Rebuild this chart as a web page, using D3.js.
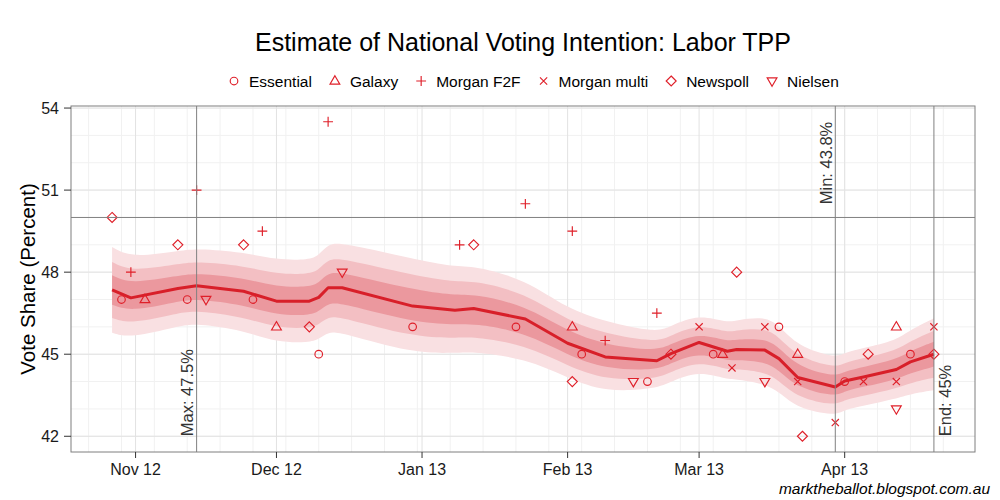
<!DOCTYPE html>
<html>
<head>
<meta charset="utf-8">
<script src="https://cdn.jsdelivr.net/npm/d3@7"></script>
<style>
  body { margin: 0; background: #fff; }
  svg { display: block; font-family: "Liberation Sans", Arial, sans-serif; }
</style>
</head>
<body>
<svg width="1000" height="500"></svg>
<script>
const svg = d3.select("svg");
const width = +svg.attr("width");
const height = +svg.attr("height");

// Margins around the panel
const margin = { top: 106, right: 25, bottom: 48, left: 71 };

const parse = d3.timeParse("%Y-%m-%d");

// Poll data, one set of arrays per house
const houses = ["Essential", "Galaxy", "Morgan F2F", "Morgan multi", "Newspoll", "Nielsen"];
const shapes = ["circle", "triangle", "plus", "cross", "diamond", "down"];

const essentialDates = ["2012-10-29", "2012-11-12", "2012-11-26", "2012-12-10", "2012-12-30", "2013-01-21",
    "2013-02-04", "2013-02-18", "2013-03-04", "2013-03-18", "2013-04-01", "2013-04-15"];
const essentialValues = [47, 47, 47, 45, 46, 46, 45, 44, 45, 46, 44, 45];

const galaxyDates = ["2012-11-03", "2012-12-01", "2013-02-02", "2013-03-06", "2013-03-22", "2013-04-12"];
const galaxyValues = [47, 46, 46, 45, 45, 46];

const morganF2FDates = ["2012-10-31", "2012-11-14", "2012-11-28", "2012-12-12", "2013-01-09", "2013-01-23",
    "2013-02-02", "2013-02-09", "2013-02-20"];
const morganF2FValues = [48, 51, 49.5, 53.5, 49, 50.5, 49.5, 45.5, 46.5];

const morganMultiDates = ["2013-03-01", "2013-03-08", "2013-03-15", "2013-03-22", "2013-03-30", "2013-04-05",
    "2013-04-12", "2013-04-20"];
const morganMultiValues = [46, 44.5, 46, 44, 42.5, 44, 44, 46];

const newspollDates = ["2012-10-27", "2012-11-10", "2012-11-24", "2012-12-08", "2013-01-12", "2013-02-02",
    "2013-02-23", "2013-03-09", "2013-03-23", "2013-04-06", "2013-04-20"];
const newspollValues = [50, 49, 49, 46, 49, 44, 45, 48, 42, 45, 45];

const nielsenDates = ["2012-11-16", "2012-12-15", "2013-02-15", "2013-03-15", "2013-04-12"];
const nielsenValues = [47, 48, 44, 44, 43];

// Estimated trend (median) and its spread
const trendDates = ["2012-10-27", "2012-10-31", "2012-11-10", "2012-11-14", "2012-11-24", "2012-12-01",
    "2012-12-08", "2012-12-10", "2012-12-12", "2012-12-15", "2012-12-30", "2013-01-08", "2013-01-12",
    "2013-01-23", "2013-02-01", "2013-02-09", "2013-02-20", "2013-02-23", "2013-03-01", "2013-03-07",
    "2013-03-09", "2013-03-15", "2013-03-18", "2013-03-22", "2013-03-30", "2013-04-01", "2013-04-05",
    "2013-04-12", "2013-04-15", "2013-04-20"];
const trendValues = [47.35, 47.06, 47.40, 47.50, 47.30, 46.94, 46.94, 47.08, 47.43, 47.43, 46.76, 46.61, 46.67,
    46.29, 45.40, 44.90, 44.76, 45.02, 45.43, 45.11, 45.17, 45.15, 44.84, 44.15, 43.80, 44.02, 44.17,
    44.44, 44.72, 45.00];
const trendSd = [0.80, 0.75, 0.70, 0.70, 0.73, 0.77, 0.77, 0.78, 0.82, 0.84, 0.88, 0.80, 0.80,
    0.74, 0.64, 0.66, 0.52, 0.52, 0.53, 0.53, 0.55, 0.63, 0.62, 0.58, 0.54, 0.53, 0.54,
    0.54, 0.60, 0.67];

// Credible intervals: 95%, 80%, 50%
const bandZ = [1.96, 1.282, 0.674];
const bandColors = ["#f9e0e2", "#f3bfc3", "#eb989e"];

const yTicks = [42, 45, 48, 51, 54];

const red = "#df1f29";

// Build the point table
const houseDates = [essentialDates, galaxyDates, morganF2FDates, morganMultiDates, newspollDates, nielsenDates];
const houseValues = [essentialValues, galaxyValues, morganF2FValues, morganMultiValues, newspollValues, nielsenValues];
const points = [];
houses.forEach((h, i) => {
    houseDates[i].forEach((d, j) => {
        points.push({ house: h, shape: shapes[i], date: parse(d), value: houseValues[i][j] });
    });
});

const trend = trendDates.map((d, i) => ({ date: parse(d), value: trendValues[i], sd: trendSd[i] }));

// Scales with ggplot style 5% expansion
const allDates = points.map(p => p.date).concat(trend.map(t => t.date));
const xExt = d3.extent(allDates);
const xPad = (xExt[1] - xExt[0]) * 0.05;
const x = d3.scaleTime()
    .domain([new Date(+xExt[0] - xPad), new Date(+xExt[1] + xPad)])
    .range([margin.left, width - margin.right]);

const yExt = d3.extent(points, p => p.value);
const yPad = (yExt[1] - yExt[0]) * 0.05;
const y = d3.scaleLinear()
    .domain([yExt[0] - yPad, yExt[1] + yPad])
    .range([height - margin.bottom, margin.top]);

const x0 = margin.left, x1 = width - margin.right;
const y0 = height - margin.bottom, y1 = margin.top;

// Shape paths, similar to R's pch 1..6
function shapePath(shape) {
    switch (shape) {
        case "circle": return circlePath(3.8);
        case "triangle": return "M0,-5.3L4.9,3.1L-4.9,3.1Z";
        case "down": return "M0,5.3L4.9,-3.1L-4.9,-3.1Z";
        case "plus": return "M-4.9,0H4.9M0,-4.9V4.9";
        case "cross": return "M-3.6,-3.6L3.6,3.6M-3.6,3.6L3.6,-3.6";
        case "diamond": return "M0,-5L5,0L0,5L-5,0Z";
    }
}
function circlePath(r) {
    const p = d3.path();
    p.arc(0, 0, r, 0, 2 * Math.PI);
    p.closePath();
    return p.toString();
}

// Grid
const grid = svg.append("g");
const weekTicks = d3.timeMonday.range(x.domain()[0], x.domain()[1]);
grid.selectAll(".vminor")
    .data(weekTicks)
    .enter().append("line")
    .attr("x1", d => x(d)).attr("x2", d => x(d))
    .attr("y1", y0).attr("y2", y1)
    .attr("stroke", "#f1f1f1").attr("stroke-width", 1);
grid.selectAll(".hminor")
    .data(d3.range(42, 55))
    .enter().append("line")
    .attr("x1", x0).attr("x2", x1)
    .attr("y1", d => y(d)).attr("y2", d => y(d))
    .attr("stroke", "#f1f1f1").attr("stroke-width", 1);

const monthTicks = d3.timeMonth.range(x.domain()[0], x.domain()[1]);
grid.selectAll(".vmajor")
    .data(monthTicks)
    .enter().append("line")
    .attr("x1", d => x(d)).attr("x2", d => x(d))
    .attr("y1", y0).attr("y2", y1)
    .attr("stroke", "#e2e2e2").attr("stroke-width", 1);
grid.selectAll(".hmajor")
    .data(yTicks)
    .enter().append("line")
    .attr("x1", x0).attr("x2", x1)
    .attr("y1", d => y(d)).attr("y2", d => y(d))
    .attr("stroke", "#e2e2e2").attr("stroke-width", 1);

// Bands, widest first
bandZ.forEach((z, i) => {
    const area = d3.area()
        .x(d => x(d.date))
        .y0(d => y(d.value - z * d.sd))
        .y1(d => y(d.value + z * d.sd))
        .curve(d3.curveBasis);
    svg.append("path")
        .datum(trend)
        .attr("d", area)
        .attr("fill", bandColors[i]);
});

// Trend line
const line = d3.line()
    .x(d => x(d.date))
    .y(d => y(d.value));
svg.append("path")
    .datum(trend)
    .attr("d", line)
    .attr("fill", "none")
    .attr("stroke", "#d81f29")
    .attr("stroke-width", 3)
    .attr("stroke-linejoin", "round");

// Points
svg.selectAll(".poll")
    .data(points)
    .enter().append("path")
    .attr("class", "poll")
    .attr("transform", d => `translate(${x(d.date)},${y(d.value)})`)
    .attr("d", d => shapePath(d.shape))
    .attr("fill", "none")
    .attr("stroke", red)
    .attr("stroke-width", 1.15);

// Reference lines: 50% and max / min / end
svg.append("line")
    .attr("x1", x0).attr("x2", x1)
    .attr("y1", y(50)).attr("y2", y(50))
    .attr("stroke", "#808080").attr("stroke-width", 1);

const maxT = trend.reduce((a, b) => b.value > a.value ? b : a);
const minT = trend.reduce((a, b) => b.value < a.value ? b : a);
const endT = trend[trend.length - 1];
const fmt = v => String(Math.round(v * 10) / 10);

const marks = [
    { t: maxT, label: "Max: " + fmt(maxT.value) + "%", dx: -4, yv: yExt[0], anchor: "start" },
    { t: minT, label: "Min: " + fmt(minT.value) + "%", dx: -3, yv: yExt[1], anchor: "end" },
    { t: endT, label: "End: " + fmt(endT.value) + "%", dx: 17.5, yv: yExt[0], anchor: "start" }
];
marks.forEach(m => {
    svg.append("line")
        .attr("x1", x(m.t.date)).attr("x2", x(m.t.date))
        .attr("y1", y0).attr("y2", y1)
        .attr("stroke", "#808080").attr("stroke-width", 1);
    svg.append("text")
        .attr("transform", `translate(${x(m.t.date) + m.dx},${y(m.yv)}) rotate(-90)`)
        .attr("text-anchor", m.anchor)
        .attr("font-size", 16.5)
        .attr("fill", "#333")
        .text(m.label);
});

// Panel border
svg.append("rect")
    .attr("x", x0).attr("y", y1)
    .attr("width", x1 - x0).attr("height", y0 - y1)
    .attr("fill", "none")
    .attr("stroke", "#7f7f7f")
    .attr("stroke-width", 1);

// Axes
const xAxis = svg.append("g").attr("transform", `translate(0,${y0})`);
xAxis.selectAll("line")
    .data(monthTicks)
    .enter().append("line")
    .attr("x1", d => x(d)).attr("x2", d => x(d))
    .attr("y1", 0).attr("y2", 6)
    .attr("stroke", "#333");
xAxis.selectAll("text")
    .data(monthTicks)
    .enter().append("text")
    .attr("x", d => x(d)).attr("y", 23)
    .attr("text-anchor", "middle")
    .attr("font-size", 16)
    .attr("fill", "#1a1a1a")
    .text(d3.timeFormat("%b %y"));

const yAxis = svg.append("g").attr("transform", `translate(${x0},0)`);
yAxis.selectAll("line")
    .data(yTicks)
    .enter().append("line")
    .attr("x1", -7).attr("x2", 0)
    .attr("y1", d => y(d)).attr("y2", d => y(d))
    .attr("stroke", "#333");
yAxis.selectAll("text")
    .data(yTicks)
    .enter().append("text")
    .attr("x", -12).attr("y", d => y(d))
    .attr("dy", "0.36em")
    .attr("text-anchor", "end")
    .attr("font-size", 16)
    .attr("fill", "#1a1a1a")
    .text(d => d);

svg.append("text")
    .attr("transform", `translate(35,${(y0 + y1) / 2}) rotate(-90)`)
    .attr("text-anchor", "middle")
    .attr("font-size", 20.5)
    .attr("fill", "#000")
    .text("Vote Share (Percent)");

// Title
svg.append("text")
    .attr("x", (x0 + x1) / 2).attr("y", 51)
    .attr("text-anchor", "middle")
    .attr("font-size", 25)
    .attr("fill", "#000")
    .text("Estimate of National Voting Intention: Labor TPP");

// Legend
const legend = svg.append("g").attr("transform", "translate(234,81)");
let lx = 0;
houses.forEach((h, i) => {
    legend.append("path")
        .attr("transform", `translate(${lx},0)`)
        .attr("d", shapePath(shapes[i]))
        .attr("fill", "none")
        .attr("stroke", red)
        .attr("stroke-width", 1.15);
    const t = legend.append("text")
        .attr("x", lx + 15).attr("y", 0)
        .attr("dy", "0.36em")
        .attr("font-size", 15.5)
        .attr("fill", "#000")
        .text(h);
    lx += 15 + t.node().getComputedTextLength() + 23;
});

// Source
svg.append("text")
    .attr("x", 990).attr("y", 494)
    .attr("text-anchor", "end")
    .attr("font-size", 15.5)
    .attr("font-style", "italic")
    .attr("fill", "#000")
    .text("marktheballot.blogspot.com.au");
</script>
</body>
</html>
